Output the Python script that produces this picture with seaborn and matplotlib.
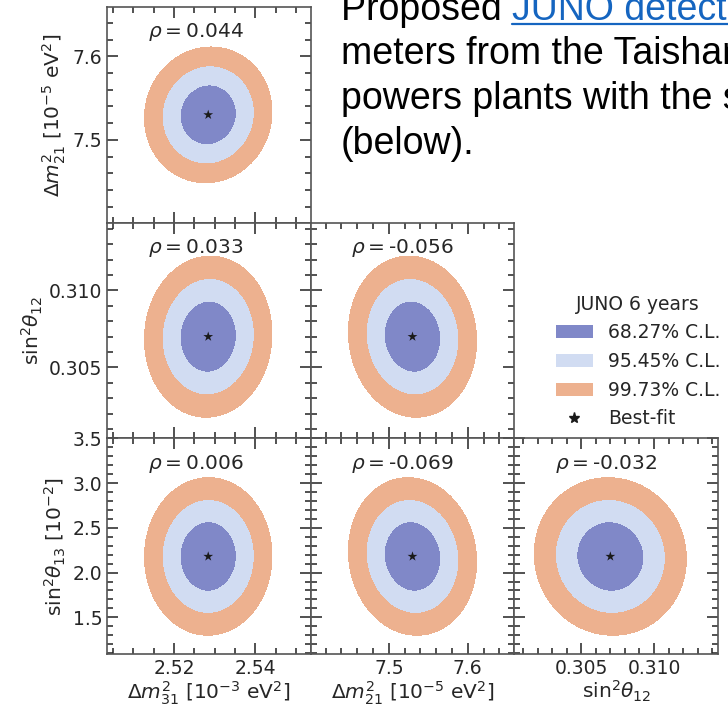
import numpy as np
import matplotlib
matplotlib.use('Agg')
import matplotlib.pyplot as plt
from matplotlib.ticker import MultipleLocator, AutoMinorLocator
from matplotlib.patches import Patch
from matplotlib.lines import Line2D
import seaborn as sns

# oscillation parameters (order: dm31, dm21, s12, s13)
param_labels = [r'$\Delta m^2_{31}$ [$10^{-3}$ eV$^2$]',
                r'$\Delta m^2_{21}$ [$10^{-5}$ eV$^2$]',
                r'$\mathrm{sin}^2\theta_{12}$',
                r'$\mathrm{sin}^2\theta_{13}$ [$10^{-2}$]']
best_fit = [2.5284, 7.530, 0.3070, 2.18]
sigma = [0.00456, 0.0236, 0.00152, 0.256]
limits = [(2.5035, 2.5536), (7.401, 7.659), (0.3004, 0.3144), (1.09, 3.5)]
major_step = [0.02, 0.1, 0.005, 0.5]

# correlations, panel order (row, col): (0,0) (1,0) (1,1) (2,0) (2,1) (2,2)
rho_values = [0.044, 0.033, -0.056, 0.006, -0.069, -0.032]
rho_labels = ['0.044', '0.033', '-0.056', '0.006', '-0.069', '-0.032']

cl_chi2 = [2.30, 6.18, 11.83]
cl_labels = ['68.27% C.L.', '95.45% C.L.', '99.73% C.L.']
cl_colors = ['#8088c8', '#d1dcf2', '#edb18f']

sns.set_theme(style='ticks')
plt.rcParams['font.family'] = ['DejaVu Sans']

fig, axes = plt.subplots(3, 3, figsize=(7.28, 7.07), dpi=100)
fig.subplots_adjust(left=107/728, right=718/728, top=1-7/707, bottom=1-654/707,
                    wspace=0, hspace=0)

k = 0
for r in range(3):
    for c in range(3):
        ax = axes[r, c]
        if c > r:
            ax.axis('off')
            continue
        px, py = c, r + 1
        x = np.linspace(*limits[px], 400)
        y = np.linspace(*limits[py], 400)
        X, Y = np.meshgrid(x, y)
        dx = (X - best_fit[px]) / sigma[px]
        dy = (Y - best_fit[py]) / sigma[py]
        rho = rho_values[k]
        chi2 = (dx**2 - 2*rho*dx*dy + dy**2) / (1 - rho**2)
        ax.contourf(X, Y, chi2, levels=[0] + cl_chi2, colors=cl_colors)
        sns.scatterplot(x=[best_fit[px]], y=[best_fit[py]], marker='*', color='k',
                        s=55, edgecolor='none', ax=ax, zorder=5)
        ax.text(0.2, 0.883, r'$\rho = $' + rho_labels[k], transform=ax.transAxes,
                ha='left', va='center', fontsize=14.5)
        ax.set_xlim(limits[px])
        ax.set_ylim(limits[py])
        ax.xaxis.set_major_locator(MultipleLocator(major_step[px]))
        ax.yaxis.set_major_locator(MultipleLocator(major_step[py]))
        ax.xaxis.set_minor_locator(AutoMinorLocator())
        ax.yaxis.set_minor_locator(AutoMinorLocator())
        ax.tick_params(which='both', direction='in', top=True, right=True,
                       labelsize=13.5, width=1.1, color='#222222')
        ax.tick_params(which='major', length=8)
        ax.tick_params(which='minor', length=4.5)
        for sp in ax.spines.values():
            sp.set_color('#555555')
            sp.set_linewidth(1.2)
        if c == 0:
            ax.set_ylabel(param_labels[py], fontsize=14.5, labelpad=3)
        else:
            ax.tick_params(labelleft=False)
        if r == 2:
            ax.set_xlabel(param_labels[px], fontsize=14.5, labelpad=1)
        else:
            ax.tick_params(labelbottom=False)
        k += 1

handles = [Patch(facecolor=col, edgecolor='none') for col in cl_colors]
handles.append(Line2D([], [], marker='*', color='k', linestyle='none', markersize=8))
fig.legend(handles, cl_labels + ['Best-fit'], title='JUNO 6 years', loc='upper left',
           bbox_to_anchor=(548/728, 1-287/707), frameon=False, fontsize=13.5,
           title_fontsize=13.5, borderaxespad=0, handlelength=2.0,
           handletextpad=0.8, labelspacing=0.52)

# page text next to the figure
para = ['meters from the Taishan and Yangjiang nuclear',
        'powers plants with the same baseline',
        '(below).']
fs = 27
t0 = fig.text(341/728, 1-20/707, 'Proposed ', fontsize=fs, family='Liberation Sans',
              va='baseline', color='black')
renderer = fig.canvas.get_renderer()
bb = t0.get_window_extent(renderer)
x_link = bb.x1 / fig.bbox.width
t1 = fig.text(x_link, 1-20/707, 'JUNO detector at 53 km', fontsize=fs,
              family='Liberation Sans', va='baseline', color='#1565c0')
bb1 = t1.get_window_extent(renderer)
fig.add_artist(Line2D([bb1.x0/728, bb1.x1/728], [1-24/707, 1-24/707],
                      transform=fig.transFigure, color='#1565c0', lw=1.6))
for i, line in enumerate(para):
    fig.text(341/728, 1-(64 + 45*i)/707, line, fontsize=fs,
             family='Liberation Sans', va='baseline', color='black')

fig.savefig('out.png', dpi=100)
